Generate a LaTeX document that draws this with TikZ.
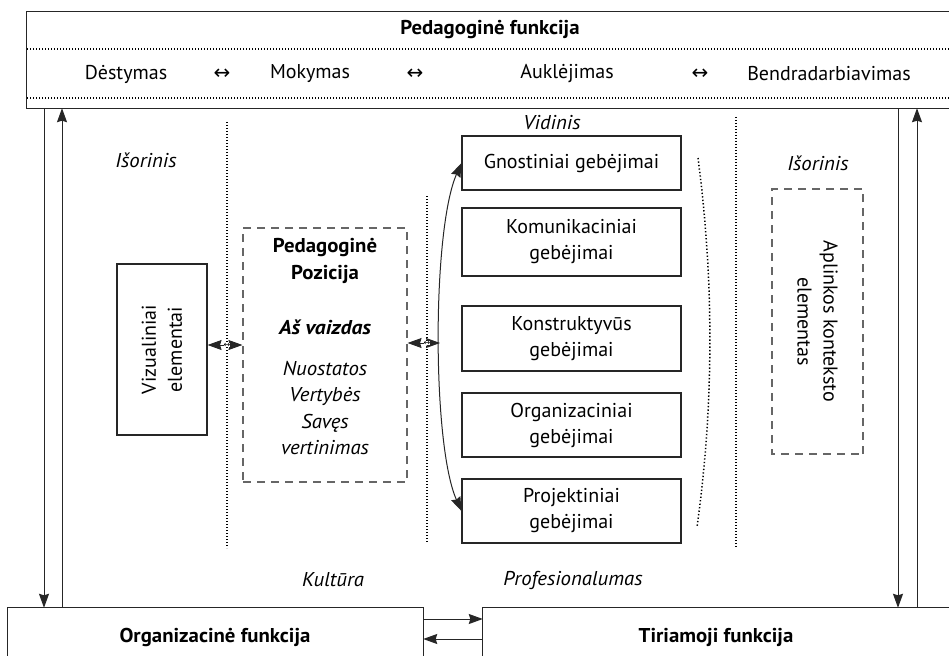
\documentclass[tikz,border=0pt]{standalone}
\usepackage{fontspec}
\setmainfont{PT Sans}[BoldFeatures={FakeStretch=1.04}, ItalicFeatures={FakeStretch=1.04}, BoldItalicFeatures={FakeStretch=1.08}]
\newfontfamily\symfont{DejaVu Sans}
\usetikzlibrary{arrows.meta}
\begin{document}
\begin{tikzpicture}[x=1pt,y=-1pt,
  lin/.style={draw=black!85, line width=1.1pt},
  box/.style={draw=black!85, line width=1.1pt, align=center, inner sep=2pt, font=\fontsize{20}{26}\selectfont},
  dbox/.style={draw=black!60, line width=1.1pt, dash pattern=on 8pt off 6pt, inner sep=0pt},
  dot/.style={draw=black, line width=1.2pt, dash pattern=on 1pt off 2pt},
  tip/.tip={Stealth[length=14pt,width=10pt,inset=1.5pt]},
  arr/.style={-tip, line width=1pt, draw=black!85},
  darr/.style={tip-tip, line width=1pt, draw=black!85},
  txt/.style={font=\fontsize{20}{26}\selectfont, inner sep=0pt},
  itxt/.style={font=\fontsize{20}{26}\selectfont\itshape, inner sep=0pt},
  btxt/.style={font=\fontsize{20}{26}\selectfont\bfseries, inner sep=0pt},
  bitxt/.style={font=\fontsize{20}{26}\selectfont\bfseries\itshape, inner sep=0pt},
  sym/.style={font=\fontsize{20}{22}\symfont, inner sep=0pt},
  tiny/.style={font=\fontsize{8}{8}\symfont, inner sep=0pt},
]
\useasboundingbox (0,0) rectangle (949,655);

% top box
\node[minimum width=922pt, minimum height=96pt, inner sep=0pt] (top) at (488,60) {};
\draw[lin] (top.north east) -- (top.north west) -- (top.south west) -- (top.south east);
\draw[dot] (27,49) -- (949,49);
\draw[dot] (27,98) -- (949,98);
\node[btxt] (ttl) at (490,30) {Pedagoginė funkcija};
\node[txt] (d1) at (126,74) {Dėstymas};
\node[sym] (s1) at (222,74) {↔};
\node[txt] (d2) at (310,74) {Mokymas};
\node[sym] (s2) at (415,74) {↔};
\node[txt] (d3) at (567,74) {Auklėjimas};
\node[sym] (s3) at (700,74) {↔};
\node[txt] (d4) at (829,74) {Bendradarbiavimas};

% bottom boxes
\node[minimum width=415pt, minimum height=94pt, inner sep=0pt] (org) at (215.5,655) {};
\draw[lin] (org.south west) -- (org.north west) -- (org.north east) -- (org.south east);
\node[btxt] (orgt) at (215,637) {Organizacinė funkcija};
\node[minimum width=480pt, minimum height=94pt, inner sep=0pt] (tir) at (723,655) {};
\draw[lin] (tir.south west) -- (tir.north west) -- (tir.north east);
\node[btxt] (tirt) at (716,637) {Tiriamoji funkcija};

% vertical arrows
\draw[arr] (top.south -| 44,0) -- (org.north -| 44,0);
\draw[arr] (org.north -| 62,0) -- (top.south -| 62,0);
\draw[arr] (top.south -| 898,0) -- (tir.north -| 898,0);
\draw[arr] (tir.north -| 917,0) -- (top.south -| 917,0);
% horizontal arrows between bottom boxes
\draw[arr] (org.north east |- 0,619) -- (tir.north west |- 0,619);
\draw[arr] (tir.north west |- 0,639) -- (org.north east |- 0,639);

% dotted separators
\draw[dot] (227,122) -- (227,548);
\draw[dot] (427,196) -- (427,543);
\draw[dot] (736,117) -- (736,547);

% labels
\node[itxt] (is1) at (146,160) {Išorinis};
\node[itxt] (is2) at (818,163) {Išorinis};
\node[itxt] (vid) at (552,123) {Vidinis};
\node[itxt] (kul) at (333,580) {Kultūra};
\node[itxt] (pro) at (573,580) {Profesionalumas};

% visual elements
\node[box, rotate=90, minimum width=171pt, minimum height=90pt] (v) at (162,349.5) {Vizualiniai\\elementai};

% pedagogine pozicija
\node[dbox, draw, minimum width=164pt, minimum height=254pt] (pp) at (325,355) {};
\node[btxt] (pp1) at (325,248) {Pedagoginė};
\node[btxt] (pp2) at (325,274) {Pozicija};
\node[bitxt] (pp3) at (325,327) {Aš vaizdas};
\node[itxt] (pp4) at (325,369) {Nuostatos};
\node[itxt] (pp5) at (325,396) {Vertybės};
\node[itxt] (pp6) at (325,423) {Savęs};
\node[itxt] (pp7) at (325,448) {vertinimas};

% skills
\node[box, minimum width=219pt, minimum height=54pt] (g) at (571.5,163) {Gnostiniai gebėjimai};
\node[box, minimum width=219pt, minimum height=68pt] (k) at (571.5,242) {Komunikaciniai\\gebėjimai};
\node[box, minimum width=219pt, minimum height=65pt] (ko) at (571.5,338.5) {Konstruktyvūs\\gebėjimai};
\node[box, minimum width=219pt, minimum height=64pt] (o) at (571.5,425) {Organizaciniai\\gebėjimai};
\node[box, minimum width=219pt, minimum height=64pt] (p) at (571.5,511) {Projektiniai\\gebėjimai};

% context
\node[dbox, draw, rotate=-90, align=center, minimum width=265pt, minimum height=91pt, font=\fontsize{20}{26}\selectfont] (ap) at (817.5,321.5) {Aplinkos konteksto\\elementas};

% connectors
\coordinate (m1) at (0,345);
\coordinate (c) at (440,343);
\draw[darr] (v.south |- m1) -- (pp.west |- m1);
\draw[darr] (pp.east |- c) -- (c);
\node[tiny, fill=white] (t1) at (227,345) {↔};
\node[tiny, fill=white] (t2) at (427,343) {↔};
\draw[darr] (g.west) .. controls (432,230) and (432,445) .. (p.west);
\draw[draw=black, line width=1.5pt, dash pattern=on 1.3pt off 2.2pt] (698,158) .. controls (714,280) and (714,405) .. (697,527);
\end{tikzpicture}
\end{document}
